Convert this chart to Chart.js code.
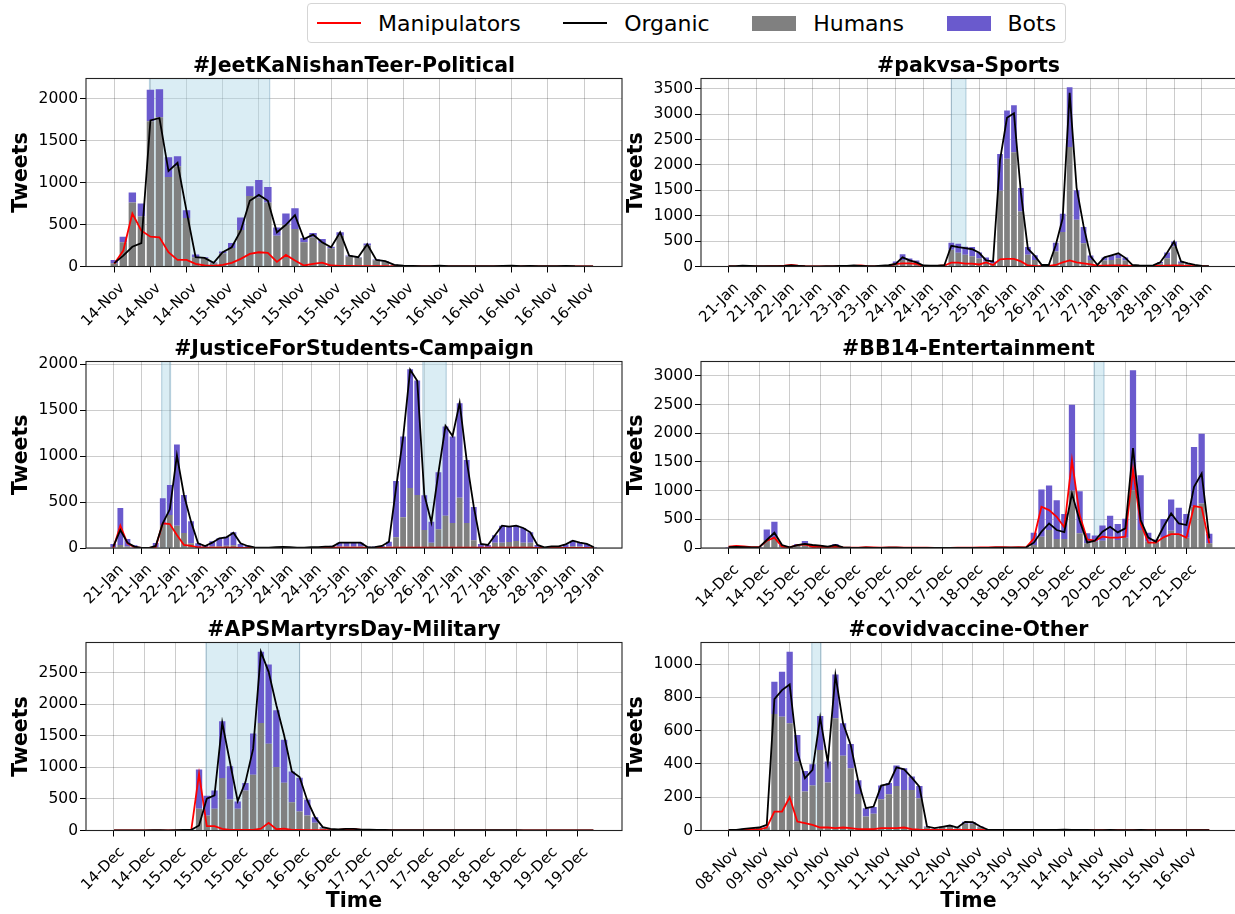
<!DOCTYPE html>
<html>
<head>
<meta charset="utf-8">
<script src="https://cdn.jsdelivr.net/npm/chart.js@4.4.1/dist/chart.umd.min.js"></script>
<style>
  html, body { margin: 0; padding: 0; background: #fff; }
  body { width: 1235px; height: 914px; position: relative; overflow: hidden; font-family: "DejaVu Sans", sans-serif; }
  canvas { position: absolute; }
  #legend {
    position: absolute; left: 307px; top: 3px; height: 38px;
    border: 1px solid #d5d5d5; border-radius: 4px;
    display: flex; align-items: center; padding: 0 9px;
    font-size: 22px; color: #000; white-space: nowrap;
  }
  .item { display: flex; align-items: center; }
  .item + .item { margin-left: 42.5px; }
  .line { width: 44px; height: 2px; }
  .box { width: 44px; height: 15px; }
  .item span { margin-left: 17px; }
</style>
</head>
<body>
<div id="legend">
  <div class="item"><div class="line" style="background:#ff0000"></div><span>Manipulators</span></div>
  <div class="item"><div class="line" style="background:#000"></div><span>Organic</span></div>
  <div class="item"><div class="box" style="background:#808080"></div><span>Humans</span></div>
  <div class="item"><div class="box" style="background:#6a5acd"></div><span>Bots</span></div>
</div>
<canvas id="c1" width="640" height="282" style="left:0;top:48px"></canvas>
<canvas id="c2" width="625" height="282" style="left:615px;top:48px"></canvas>
<canvas id="c3" width="640" height="285" style="left:0;top:330px"></canvas>
<canvas id="c4" width="625" height="285" style="left:615px;top:330px"></canvas>
<canvas id="c5" width="640" height="299" style="left:0;top:615px"></canvas>
<canvas id="c6" width="625" height="299" style="left:615px;top:615px"></canvas>
<script>
// one bar per time bin, a date tick every 4 bins
const barsPerTick = 4;

// #JeetKaNishanTeer-Political
const jeetTicks = ['14-Nov','14-Nov','14-Nov','15-Nov','15-Nov','15-Nov','15-Nov','15-Nov','15-Nov','16-Nov','16-Nov','16-Nov','16-Nov','16-Nov'];
const jeetYTicks = [0, 500, 1000, 1500, 2000];
const jeetTotal = [79,356,881,751,2107,2115,1304,1316,672,142, 111,47,178,281,585,957,1032,949,466,632, 696,340,399,328,237,407,130,111,273,83, 63,24,12,8,5,6,12,6,4,5, 6,4,5,7,10,6,9,5,4,5, 8,4,3,3];
const jeetHumans = [40,289,763,597,1731,1780,1067,1195,577,111, 99,40,158,221,435,842,822,763,368,498, 447,289,348,281,217,368,119,105,249,75, 58,20,10,7,4,5,10,5,3,4, 5,3,4,6,8,5,8,4,3,4, 7,3,2,2];
const jeetOrganic = [40,130,235,280,1743,1771,1138,1237,660,111, 103,43,170,229,427,783,854,783,407,498, 613,328,380,289,229,407,130,111,265,79, 63,20,10,6,4,5,10,5,3,4, 5,3,4,6,9,5,8,4,3,4, 7,3,2,2];
const jeetManip = [32,190,632,427,356,348,170,79,79,32, 12,8,20,43,91,150,170,162,55,138, 71,12,32,47,12,8,8,5,4,3, 3,2,2,1,1,1,2,1,1,1, 1,1,1,1,2,1,1,1,1,1, 1,1,1,1];
const jeetShade = [[3.9, 17.2]];

// #pakvsa-Sports
const pakTicks = ['21-Jan','21-Jan','22-Jan','22-Jan','23-Jan','23-Jan','24-Jan','24-Jan','25-Jan','25-Jan','26-Jan','26-Jan','27-Jan','27-Jan','28-Jan','28-Jan','29-Jan','29-Jan'];
const pakYTicks = [0, 500, 1000, 1500, 2000, 2500, 3000, 3500];
const pakTotal = [5,10,15,10,8,5,5,8,15,25, 15,5,5,5,5,8,12,15,20,15, 8,10,20,30,100,243,160,120,30,10, 10,30,467,447,388,382,276,178,99,2217, 3073,3178,1546,382,224,30,30,467,1040,3533, 1500,776,217,30,178,217,237,178,30,10, 10,30,90,276,493,100,60,30,10,5];
const pakHumans = [4,8,12,8,6,4,4,6,12,20, 12,4,4,4,4,6,10,12,16,12, 6,8,16,24,70,130,110,80,25,8, 8,25,330,270,230,200,158,100,66,1494, 2125,2250,1086,230,130,25,25,296,678,2356, 921,460,130,25,118,130,165,118,25,8, 8,25,60,165,395,70,45,25,8,4];
const pakOrganic = [5,8,15,10,6,5,5,6,12,22, 12,5,4,4,5,6,10,14,20,12, 6,8,15,25,50,180,120,80,20,15, 18,25,408,380,360,340,270,120,100,2100, 2930,3020,1450,350,210,30,30,420,950,3420, 1550,800,200,30,180,220,260,170,30,20, 18,22,80,270,490,100,60,30,10,5];
const pakManip = [2,3,3,3,2,3,5,8,15,30, 15,5,3,2,2,3,5,8,12,20, 8,3,5,10,50,60,60,50,10,5, 10,20,75,75,55,55,40,80,30,140, 150,150,100,20,10,8,10,30,80,120, 80,60,40,15,15,20,20,15,10,8, 8,10,10,15,20,15,10,8,5,3];
const pakShade = [[32.0, 34.1]];

// #JusticeForStudents-Campaign
const jusTicks = pakTicks;
const jusYTicks = [0, 500, 1000, 1500, 2000];
const jusTotal = [44,436,98,29,3,3,54,541,686,1126, 577,290,51,33,73,105,123,171,44,25, 8,6,5,8,12,10,6,5,8,10, 20,25,58,58,58,58,15,15,22,69, 730,1213,1946,1823,574,287,824,1322,1213,1576, 959,447,44,33,138,243,232,243,218,171, 33,7,18,18,40,80,58,44,7];
const jusHumans = [8,33,15,5,1,1,10,250,360,243, 163,51,12,8,15,20,25,30,10,5, 2,2,1,2,3,2,1,1,2,3, 5,6,15,15,15,15,5,5,6,15, 116,334,654,577,196,58,203,352,272,548, 272,84,12,10,58,58,65,76,58,58, 10,2,5,5,10,20,15,12,2];
const jusOrganic = [15,196,58,15,0,0,22,269,421,1009, 577,287,51,22,58,105,116,167,51,22, 7,5,5,8,12,10,5,5,8,10, 15,15,58,58,58,58,7,10,22,69, 650,1200,1940,1820,580,280,820,1330,1220,1580, 950,450,44,33,138,243,232,243,218,171, 33,7,18,18,40,80,58,44,7];
const jusManip = [0,243,51,10,2,2,10,269,261,142, 33,22,8,3,3,3,3,3,2,2, 2,2,2,2,2,2,2,2,2,2, 2,3,3,3,3,3,2,2,2,3, 5,5,5,5,5,5,5,5,5,5, 5,5,3,3,3,3,3,3,3,3, 2,2,2,2,2,2,2,2,2];
const jusShade = [[6.85, 8.1], [43.8, 47.1]];

// #BB14-Entertainment
const bbTicks = ['14-Dec','14-Dec','15-Dec','15-Dec','16-Dec','16-Dec','17-Dec','17-Dec','18-Dec','18-Dec','19-Dec','19-Dec','20-Dec','20-Dec','21-Dec','21-Dec'];
const bbYTicks = [0, 500, 1000, 1500, 2000, 2500, 3000];
const bbTotal = [17,40,23,17,17,324,457,52,17,70, 122,52,52,23,70,17,5,3,8,3, 3,5,8,3,3,3,3,2,2,2, 3,3,3,3,3,5,5,5,10,15, 266,1019,1088,834,591,2496,990,255,220,394, 562,417,510,3098,1268,266,150,504,845,700, 591,1760,1992,250];
const bbHumans = [10,25,15,10,10,139,168,35,10,45, 52,35,35,15,40,10,3,2,5,2, 2,3,5,2,2,2,2,1,1,1, 2,2,2,2,2,3,3,3,7,10, 52,197,313,156,156,996,255,81,110,127, 197,139,180,1007,313,110,100,180,300,250, 180,718,776,81];
const bbOrganic = [15,20,15,12,12,139,266,52,12,52, 70,52,40,23,52,12,5,3,5,3, 3,5,5,3,3,3,3,2,2,2, 3,3,3,3,3,5,5,5,8,12, 93,284,428,313,278,950,480,93,127,284, 370,272,342,1743,486,180,110,370,602,428, 400,1065,1297,168];
const bbManip = [23,35,29,15,15,127,180,23,10,52, 64,20,20,15,25,10,5,8,15,12, 8,10,12,8,5,5,5,3,3,3, 5,5,8,10,12,15,15,12,15,10, 162,718,660,544,359,1529,573,150,127,197, 180,180,197,1366,428,93,93,185,243,243, 180,730,706,81];
const bbShade = [[47.9, 49.2]];

// #APSMartyrsDay-Military
const apsTicks = ['14-Dec','14-Dec','15-Dec','15-Dec','15-Dec','16-Dec','16-Dec','16-Dec','17-Dec','17-Dec','17-Dec','18-Dec','18-Dec','18-Dec','19-Dec','19-Dec'];
const apsYTicks = [0, 500, 1000, 1500, 2000, 2500];
const apsTotal = [3,3,3,3,3,5,5,3,5,8, 10,967,550,634,1728,1015,460,750,1533,2827, 2627,1903,1438,935,835,491,211,53,20,15, 26,37,20,15,12,10,8,8,6,6, 5,5,5,5,5,5,5,4,4,4, 4,4,4,4,3,3,3,3,3,3, 3,3,3];
const apsHumans = [2,2,2,2,2,3,3,2,3,5, 7,343,238,343,830,491,343,634,883,1702, 1374,1004,756,449,301,238,122,35,15,10, 20,28,15,10,8,7,6,6,4,4, 4,4,4,4,4,4,4,3,3,3, 3,3,3,3,2,2,2,2,2,2, 2,2,2];
const apsOrganic = [3,3,3,3,3,5,5,3,5,8, 10,80,502,555,1707,1080,465,766,1295,2827, 2510,1982,1506,935,846,475,211,53,26,16, 26,26,15,12,10,8,7,6,5,5, 5,5,5,5,5,4,4,4,4,4, 4,4,4,3,3,3,3,3,3,3, 3,3,3];
const apsManip = [2,2,2,2,3,3,3,3,3,3, 10,898,69,69,26,10,10,10,10,30, 122,20,30,10,8,5,5,5,5,10, 20,20,10,5,3,3,2,2,2,2, 2,2,2,2,2,2,2,2,2,2, 2,2,2,2,2,2,2,2,2,2, 2,2,2];
const apsShade = [[11.9, 24.0]];

// #covidvaccine-Other
const covTicks = ['08-Nov','09-Nov','09-Nov','10-Nov','10-Nov','11-Nov','11-Nov','12-Nov','12-Nov','13-Nov','13-Nov','14-Nov','14-Nov','15-Nov','15-Nov','16-Nov'];
const covYTicks = [0, 200, 400, 600, 800, 1000];
const covTotal = [3,5,10,15,18,24,894,954,1074,574, 358,398,688,414,938,644,520,302,134,142, 270,286,390,374,324,268,24,10,24,28, 18,52,50,24,6,4,3,3,3,4, 3,3,3,3,5,3,3,3,2,2, 3,2,2,2,3,2,2,2,2,2, 2,2,2,2];
const covHumans = [2,4,8,12,15,20,700,684,644,414, 234,270,484,288,674,450,374,220,84,100, 188,218,268,244,244,194,20,8,20,22, 14,40,40,20,5,3,2,2,2,3, 2,2,2,2,4,2,2,2,1,1, 2,1,1,1,2,1,1,1,1,1, 1,1,1,1];
const covOrganic = [4,4,10,14,18,34,790,844,878,474, 314,364,678,408,934,644,514,294,134,144, 270,280,380,368,318,264,24,14,22,30, 18,52,50,24,4,4,3,3,3,4, 3,3,3,3,5,3,3,3,2,2, 3,2,2,2,3,2,2,2,2,2, 2,2,2,2];
const covManip = [2,3,4,5,5,18,114,114,200,54, 44,34,18,18,14,18,14,8,8,8, 14,14,14,18,8,5,4,3,3,3, 3,3,3,3,2,2,2,2,2,2, 2,2,2,2,2,2,2,2,2,2, 2,2,2,2,2,2,2,2,2,2, 2,2,2,2];
const covShade = [[10.9, 12.1]];

const panels = [
  { id: 'c1', title: '#JeetKaNishanTeer-Political', ticks: jeetTicks, yTicks: jeetYTicks, total: jeetTotal, humans: jeetHumans, organic: jeetOrganic, manip: jeetManip, shade: jeetShade, xMin: -3.13, xMax: 56.2, yMax: 2242, row: 0, col: 0 },
  { id: 'c2', title: '#pakvsa-Sports', ticks: pakTicks, yTicks: pakYTicks, total: pakTotal, humans: pakHumans, organic: pakOrganic, manip: pakManip, shade: pakShade, xMin: -3.96, xMax: 72.9, yMax: 3704, row: 0, col: 1 },
  { id: 'c3', title: '#JusticeForStudents-Campaign', ticks: jusTicks, yTicks: jusYTicks, total: jusTotal, humans: jusHumans, organic: jusOrganic, manip: jusManip, shade: jusShade, xMin: -3.86, xMax: 71.97, yMax: 2030, row: 1, col: 0 },
  { id: 'c4', title: '#BB14-Entertainment', ticks: bbTicks, yTicks: bbYTicks, total: bbTotal, humans: bbHumans, organic: bbOrganic, manip: bbManip, shade: bbShade, xMin: -3.62, xMax: 66.5, yMax: 3250, row: 1, col: 1 },
  { id: 'c5', title: '#APSMartyrsDay-Military', ticks: apsTicks, yTicks: apsYTicks, total: apsTotal, humans: apsHumans, organic: apsOrganic, manip: apsManip, shade: apsShade, xMin: -3.62, xMax: 65.7, yMax: 2975, row: 2, col: 0 },
  { id: 'c6', title: '#covidvaccine-Other', ticks: covTicks, yTicks: covYTicks, total: covTotal, humans: covHumans, organic: covOrganic, manip: covManip, shade: covShade, xMin: -3.62, xMax: 66.5, yMax: 1130, row: 2, col: 1 }
];

// space above the plot and height of the x axis block, per row
const rowTop = [30.5, 31.5, 27.5];
const rowAxis = [63.5, 67, 83.5];
const colRightPad = [18, 4];

Chart.defaults.font.family = '"DejaVu Sans", sans-serif';
Chart.defaults.color = '#000';

const panelDecor = {
  id: 'panelDecor',
  beforeDatasetsDraw(chart, args, opts) {
    const { ctx, chartArea: a, scales: { x } } = chart;
    ctx.save();
    ctx.beginPath();
    ctx.rect(a.left, a.top, a.width, a.height);
    ctx.clip();
    opts.spans.forEach(([s, e]) => {
      const x0 = x.getPixelForValue(s);
      const x1 = x.getPixelForValue(e);
      ctx.fillStyle = 'rgba(173,216,230,0.45)';
      ctx.fillRect(x0, a.top, x1 - x0, a.height);
      ctx.strokeStyle = 'rgba(100,150,180,0.4)';
      ctx.lineWidth = 1.2;
      ctx.beginPath();
      ctx.moveTo(x0, a.top); ctx.lineTo(x0, a.bottom);
      ctx.moveTo(x1, a.top); ctx.lineTo(x1, a.bottom);
      ctx.stroke();
    });
    ctx.restore();
  },
  afterDatasetsDraw(chart) {
    const { ctx, chartArea: a } = chart;
    ctx.save();
    ctx.strokeStyle = '#222';
    ctx.lineWidth = 1.1;
    ctx.strokeRect(a.left, a.top, a.width, a.height);
    ctx.restore();
  },
  afterDraw(chart, args, opts) {
    const { ctx, chartArea: a } = chart;
    ctx.save();
    ctx.font = 'bold 20.5px "DejaVu Sans"';
    ctx.fillStyle = '#000';
    ctx.textAlign = 'center';
    ctx.textBaseline = 'alphabetic';
    ctx.fillText(opts.title, (a.left + a.right) / 2, a.top - 7);
    ctx.restore();
  }
};

const gridStyle = { color: 'rgba(0,0,0,0.2)', lineWidth: 1, tickLength: 6, tickColor: '#000', offset: false };

panels.forEach(p => {
  const pts = arr => arr.map((v, i) => ({ x: i, y: v }));
  const bots = p.total.map((v, i) => v - p.humans[i]);
  new Chart(document.getElementById(p.id), {
    type: 'bar',
    data: {
      datasets: [
        { type: 'line', label: 'Organic', data: pts(p.organic), borderColor: '#000', borderWidth: 1.8, pointRadius: 0, tension: 0, stack: 'org', order: 0 },
        { type: 'line', label: 'Manipulators', data: pts(p.manip), borderColor: '#ff0000', borderWidth: 1.8, pointRadius: 0, tension: 0, stack: 'man', order: 1 },
        { label: 'Humans', data: pts(p.humans), backgroundColor: '#808080', barPercentage: 0.82, categoryPercentage: 1, stack: 'tw', order: 2 },
        { label: 'Bots', data: pts(bots), backgroundColor: '#6a5acd', barPercentage: 0.82, categoryPercentage: 1, stack: 'tw', order: 2 }
      ]
    },
    options: {
      responsive: false,
      devicePixelRatio: 1,
      animation: false,
      events: [],
      layout: { autoPadding: false, padding: { left: 0, right: colRightPad[p.col], top: rowTop[p.row], bottom: 0 } },
      plugins: {
        legend: { display: false },
        tooltip: { enabled: false },
        panelDecor: { title: p.title, spans: p.shade }
      },
      scales: {
        x: {
          type: 'linear', min: p.xMin, max: p.xMax, stacked: true, offset: false,
          afterBuildTicks: s => { s.ticks = p.ticks.map((_, k) => ({ value: k * barsPerTick })); },
          afterFit: s => { s.height = rowAxis[p.row]; },
          ticks: { autoSkip: false, minRotation: 45, maxRotation: 45, padding: 7, labelOffset: 8, font: { size: 15 }, callback: (v, k) => p.ticks[k] },
          grid: gridStyle,
          border: { display: false },
          title: { display: p.row === 2, text: 'Time', font: { size: 20.5, weight: 'bold' }, padding: { top: 0, bottom: 0 } }
        },
        y: {
          min: 0, max: p.yMax, stacked: true,
          afterBuildTicks: s => { s.ticks = p.yTicks.map(v => ({ value: v })); },
          afterFit: s => { s.width = 86; },
          ticks: { padding: 2, font: { size: 15.5 }, callback: v => v },
          grid: gridStyle,
          border: { display: false },
          title: { display: true, text: 'Tweets', font: { size: 20.5, weight: 'bold' }, padding: { top: 9.5, bottom: 0 } }
        }
      }
    },
    plugins: [panelDecor]
  });
});
</script>
</body>
</html>
